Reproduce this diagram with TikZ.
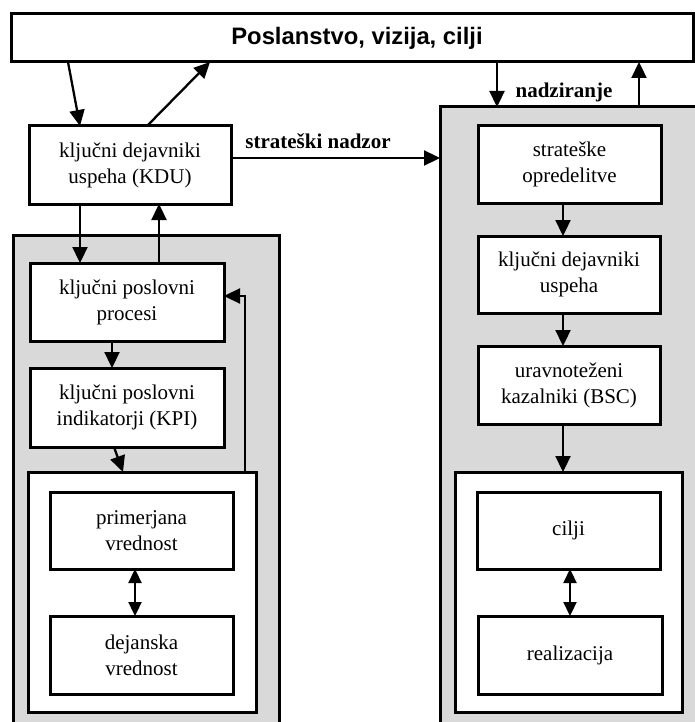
\documentclass[tikz,border=0pt]{standalone}
\usepackage{fontspec}
\setmainfont{Liberation Serif}
\newfontfamily\headfont{Liberation Sans}
\usetikzlibrary{arrows.meta}
\definecolor{panelgray}{HTML}{D9D9D9}
\tikzset{
  box/.style={draw=black, line width=3pt, fill=white, align=center,
    inner sep=0pt, outer sep=0pt,
    font=\fontsize{21}{26}\selectfont},
  panel/.style={draw=black, line width=3pt, fill=panelgray, inner sep=0pt, outer sep=0pt},
  arr/.style={line width=2.3pt, -{Triangle[length=16pt,width=15pt]}},
  dblarr/.style={line width=2.3pt, {Triangle[length=14pt,width=13pt]}-{Triangle[length=14pt,width=13pt]}},
  lbl/.style={font=\fontsize{21}{26}\selectfont\bfseries, inner sep=0pt}
}
\begin{document}
\begin{tikzpicture}[x=1pt, y=-1pt]
\useasboundingbox (0,0) rectangle (694,722);

% gray panels (run off the page edges)
\node[panel, minimum width=266pt, minimum height=495pt] (lgray) at (146,482.5) {};
\node[panel, minimum width=260pt, minimum height=623pt] (rgray) at (570,418.5) {};

% top banner (title set a little right of the box centre)
\node[box, minimum width=682pt, minimum height=48pt,
      font=\headfont\bfseries\fontsize{23.8}{27}\selectfont] (top) at (352,38) {\hspace*{10pt}Poslanstvo, vizija, cilji};

% left column
\node[box, minimum width=202pt, minimum height=78pt] (kdu) at (130,165) {ključni dejavniki\\uspeha (KDU)};
\node[box, minimum width=194pt, minimum height=78pt] (proc) at (127,302) {ključni poslovni\\procesi};
\node[box, minimum width=194pt, minimum height=79pt] (kpi) at (127,407.5) {ključni poslovni\\indikatorji (KPI)};
\node[box, minimum width=228pt, minimum height=240pt] (lwhite) at (142,592) {};
\node[box, minimum width=183pt, minimum height=77pt] (prim) at (141.5,530.5) {primerjana\\vrednost};
\node[box, minimum width=183pt, minimum height=78pt] (dej) at (141.5,655) {dejanska\\vrednost};

% right column
\node[box, minimum width=183pt, minimum height=77pt] (strat) at (569.5,164.5) {strateške\\opredelitve};
\node[box, minimum width=182pt, minimum height=77pt] (ksu) at (569,274.5) {ključni dejavniki\\uspeha};
\node[box, minimum width=182pt, minimum height=78pt] (bsc) at (569,385) {uravnoteženi\\kazalniki (BSC)};
\node[box, minimum width=227pt, minimum height=240pt] (rwhite) at (568.5,592) {};
\node[box, minimum width=183pt, minimum height=77pt] (cilji) at (568.5,530.5) {cilji};
\node[box, minimum width=184pt, minimum height=78pt] (real) at (570,655) {realizacija};

% labels
\node[lbl] (nadzor) at (318,141) {strateški nadzor};
\node[lbl] (nadz) at (564,92) {nadziranje};

% connectors, left side
\draw[arr] ([xshift=57pt]top.south west) -- ([xshift=51pt]kdu.north west);
\draw[arr] ([xshift=118pt]kdu.north west) -- ([xshift=199pt]top.south west);
\draw[arr] ([xshift=51pt]kdu.south west) -- ([xshift=50pt]proc.north west);
\draw[arr] ([xshift=129pt]proc.north west) -- ([xshift=130pt]kdu.south west);
\draw[arr] ([xshift=82pt]proc.south west) -- ([xshift=82pt]kpi.north west);
\draw[arr] ([xshift=84pt]kpi.south west) -- ([xshift=95pt]lwhite.north west);
\draw[arr] ([xshift=217pt]lwhite.north west) |- ([yshift=6pt]proc.east);
\draw[dblarr] ([xshift=85pt]prim.south west) -- ([xshift=85pt]dej.north west);

% connectors, right side
\draw[arr] ([xshift=486pt]top.south west) -- ([xshift=57pt]rgray.north west);
\draw[arr] ([xshift=199pt]rgray.north west) -- ([xshift=628pt]top.south west);
\draw[arr] ([yshift=7pt]kdu.east) coordinate (sn) -- (sn -| rgray.west);
\draw[arr] ([xshift=85pt]strat.south west) -- ([xshift=85pt]ksu.north west);
\draw[arr] ([xshift=85pt]ksu.south west) -- ([xshift=85pt]bsc.north west);
\draw[arr] ([xshift=85pt]bsc.south west) -- ([xshift=108pt]rwhite.north west);
\draw[dblarr] ([xshift=93pt]cilji.south west) -- ([xshift=92pt]real.north west);
\end{tikzpicture}
\end{document}
